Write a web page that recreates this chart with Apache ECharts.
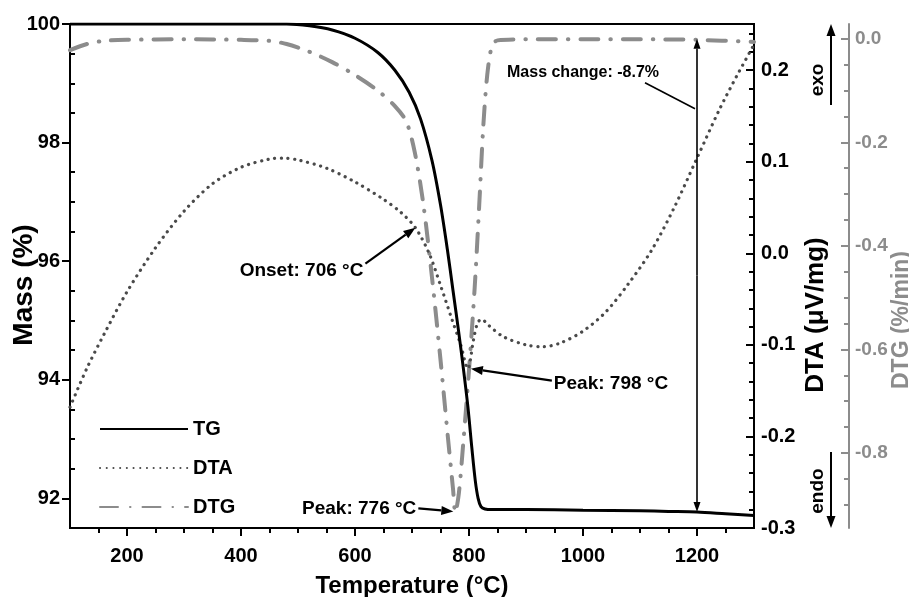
<!DOCTYPE html>
<html>
<head>
<meta charset="utf-8">
<script src="https://cdn.jsdelivr.net/npm/echarts@6/dist/echarts.min.js"></script>
<style>
  html, body { margin: 0; padding: 0; background: #fff; }
  #chart { width: 909px; height: 597px; }
</style>
</head>
<body>
<div id="chart"></div>
<script>
// Thermal analysis: TG (mass), DTA (heat flow) and DTG (mass-loss rate) vs temperature

// TG curve
const tgTemp = [100, 200, 300, 400, 480, 520, 560, 600, 640, 670, 695, 715, 735, 750, 762, 772, 782, 790, 798, 805, 811, 816, 821, 828, 840, 900, 1000, 1100, 1150, 1200, 1250, 1300];
const tgMass = [100, 100, 100, 100, 100, 99.97, 99.9, 99.76, 99.52, 99.22, 98.85, 98.4, 97.7, 96.95, 96.2, 95.5, 94.8, 94.2, 93.55, 92.85, 92.3, 92.0, 91.86, 91.82, 91.81, 91.81, 91.8, 91.79, 91.78, 91.77, 91.74, 91.71];

// DTA curve
const dtaTemp = [100, 130, 160, 200, 250, 300, 350, 400, 450, 475, 500, 550, 600, 650, 680, 706, 730, 750, 770, 785, 798, 808, 815, 822, 835, 860, 900, 930, 960, 1000, 1040, 1080, 1120, 1160, 1200, 1240, 1270, 1300];
const dtaSignal = [-0.168, -0.125, -0.088, -0.042, 0.006, 0.046, 0.076, 0.094, 0.103, 0.104, 0.102, 0.093, 0.078, 0.059, 0.045, 0.028, 0.0, -0.035, -0.072, -0.099, -0.126, -0.094, -0.076, -0.072, -0.079, -0.091, -0.1, -0.102, -0.098, -0.085, -0.064, -0.033, 0.003, 0.05, 0.104, 0.158, 0.194, 0.228];

// DTG curve
const dtgTemp = [100, 130, 160, 200, 300, 400, 450, 480, 520, 560, 600, 640, 670, 690, 705, 720, 735, 750, 763, 772, 776, 782, 790, 800, 810, 818, 825, 832, 840, 850, 900, 1000, 1100, 1200, 1300];
const dtgRate = [-0.022, -0.01, -0.004, -0.002, -0.001, -0.002, -0.004, -0.01, -0.025, -0.045, -0.07, -0.1, -0.13, -0.16, -0.22, -0.32, -0.46, -0.62, -0.77, -0.87, -0.915, -0.88, -0.78, -0.64, -0.48, -0.32, -0.17, -0.07, -0.015, -0.003, -0.001, -0.001, -0.001, -0.002, -0.006];

// Axis ticks and labels
const tempLabels = [200, 400, 600, 800, 1000, 1200];
const tempMinor = [150, 250, 300, 350, 450, 500, 550, 650, 700, 750, 850, 900, 950, 1050, 1100, 1150, 1250];
const massLabels = [92, 94, 96, 98, 100];
const massMinor = [92.5, 93, 93.5, 94.5, 95, 95.5, 96.5, 97, 97.5, 98.5, 99, 99.5];
const dtaLabels = [-0.3, -0.2, -0.1, 0.0, 0.1, 0.2];
const dtaMinor = [-0.28, -0.26, -0.24, -0.22, -0.18, -0.16, -0.14, -0.12, -0.08, -0.06, -0.04, -0.02, 0.02, 0.04, 0.06, 0.08, 0.12, 0.14, 0.16, 0.18, 0.22, 0.24];
const dtgLabels = [-0.8, -0.6, -0.4, -0.2, 0.0];
const dtgMinor = [-0.9, -0.85, -0.75, -0.7, -0.65, -0.55, -0.5, -0.45, -0.35, -0.3, -0.25, -0.15, -0.1, -0.05];

// Annotation values
const onsetTemp = 706;
const dtaPeakTemp = 798;
const dtgPeakTemp = 776;
const massChangeTemp = 1200;
const massChangeText = 'Mass change: -8.7%';

const FONT = "'Liberation Sans', Arial, sans-serif";
const GREY = '#8c8c8c';
const DARK = '#4a4a4a';

const zip = (a, b) => a.map((v, i) => [v, b[i]]);
const interp = (xs, ys, x) => {
  for (let i = 1; i < xs.length; i++) {
    if (x <= xs[i]) {
      const t = (x - xs[i - 1]) / (xs[i] - xs[i - 1]);
      return ys[i - 1] + t * (ys[i] - ys[i - 1]);
    }
  }
  return ys[ys.length - 1];
};

const boldText = (size, color) => ({ fontFamily: FONT, fontWeight: 'bold', fontSize: size, color: color || '#000' });

const MASS_MIN = 91.5, MASS_MAX = 100;
const DTA_MIN = -0.3, DTA_MAX = 0.2505;
const DTG_MIN = -0.945, DTG_MAX = 0.0286;

function yAxisPair(min, max, labels, minor, opts) {
  const major = {
    type: 'value', min, max, position: opts.position, offset: opts.offset || 0,
    axisLine: { show: true, onZero: false, lineStyle: { color: opts.color, width: 2 } },
    axisTick: { show: true, inside: opts.inside, length: 8, customValues: labels, lineStyle: { color: opts.color, width: 2 } },
    axisLabel: { show: true, customValues: labels, margin: opts.margin, formatter: opts.fmt, ...boldText(opts.fontSize, opts.color) },
    splitLine: { show: false }
  };
  const minorAxis = {
    type: 'value', min, max, position: opts.position, offset: opts.offset || 0,
    axisLine: { show: false, onZero: false },
    axisTick: { show: true, inside: opts.minorInside, length: 5, customValues: minor, lineStyle: { color: opts.color, width: 2 } },
    axisLabel: { show: false },
    splitLine: { show: false }
  };
  return [major, minorAxis];
}

const chart = echarts.init(document.getElementById('chart'), null, { renderer: 'canvas' });

const option = {
  animation: false,
  backgroundColor: '#fff',
  grid: {
    left: 70, right: 155, top: 24, bottom: 69, containLabel: false, outerBoundsMode: 'none',
    show: true, borderColor: '#000', borderWidth: 2, backgroundColor: 'transparent'
  },
  legend: {
    orient: 'vertical', left: 94, top: 414, itemWidth: 88, itemHeight: 16, itemGap: 19,
    itemStyle: { opacity: 0 },
    textStyle: { ...boldText(20), lineHeight: 16 },
    data: ['TG', 'DTA', 'DTG']
  },
  xAxis: [
    {
      type: 'value', min: 100, max: 1300, position: 'bottom',
      axisLine: { onZero: false, lineStyle: { color: '#000', width: 2 } },
      axisTick: { length: 8, customValues: tempLabels, lineStyle: { color: '#000', width: 2 } },
      axisLabel: { customValues: tempLabels, margin: 18, formatter: v => String(v), ...boldText(20) },
      splitLine: { show: false },
      name: 'Temperature (°C)', nameLocation: 'middle', nameGap: 46, nameMoveOverlap: false,
      nameTextStyle: boldText(24)
    },
    {
      type: 'value', min: 100, max: 1300, position: 'bottom',
      axisLine: { show: false, onZero: false },
      axisTick: { length: 5, customValues: tempMinor, lineStyle: { color: '#000', width: 2 } },
      axisLabel: { show: false }, splitLine: { show: false }
    }
  ],
  yAxis: [
    ...yAxisPair(MASS_MIN, MASS_MAX, massLabels, massMinor, { position: 'left', color: '#000', inside: false, minorInside: true, margin: 10, fontSize: 20, fmt: v => String(Math.round(v)) }),
    ...yAxisPair(DTA_MIN, DTA_MAX, dtaLabels, dtaMinor, { position: 'right', color: '#000', inside: true, minorInside: true, margin: 7, fontSize: 20, fmt: v => v.toFixed(1) }),
    ...yAxisPair(DTG_MIN, DTG_MAX, dtgLabels, dtgMinor, { position: 'right', offset: 95, color: GREY, inside: true, minorInside: true, margin: 6, fontSize: 19, fmt: v => v.toFixed(1) })
  ],
  series: [
    {
      name: 'TG', type: 'line', xAxisIndex: 0, yAxisIndex: 0, data: zip(tgTemp, tgMass),
      symbol: 'none', smooth: 0.3, z: 5,
      lineStyle: { color: '#000', width: 3 }, itemStyle: { color: '#000' }
    },
    {
      name: 'DTA', type: 'line', xAxisIndex: 0, yAxisIndex: 2, data: zip(dtaTemp, dtaSignal),
      symbol: 'none', smooth: 0.3, z: 4,
      lineStyle: { color: DARK, width: 3.2, type: [0.1, 6.6], cap: 'round' }, itemStyle: { color: DARK }
    },
    {
      name: 'DTG', type: 'line', xAxisIndex: 0, yAxisIndex: 4, data: zip(dtgTemp, dtgRate),
      symbol: 'none', smooth: 0.3, z: 3,
      lineStyle: { color: GREY, width: 4, type: [18, 12, 0.5, 12], cap: 'round' }, itemStyle: { color: GREY }
    }
  ]
};

chart.setOption(option);

// ---- annotations placed from data coordinates ----
const px = t => chart.convertToPixel({ xAxisIndex: 0 }, t);
const pyMass = v => chart.convertToPixel({ yAxisIndex: 0 }, v);
const pyDta = v => chart.convertToPixel({ yAxisIndex: 2 }, v);
const pyDtg = v => chart.convertToPixel({ yAxisIndex: 4 }, v);

function arrow(x1, y1, x2, y2, opt) {
  const o = Object.assign({ head: 12, half: 4.5, width: 2.2, color: '#000' }, opt || {});
  const dx = x2 - x1, dy = y2 - y1, len = Math.hypot(dx, dy);
  const ux = dx / len, uy = dy / len;
  const bx = x2 - ux * o.head, by = y2 - uy * o.head;
  return [
    { type: 'line', shape: { x1, y1, x2: bx, y2: by }, style: { stroke: o.color, lineWidth: o.width }, z: 20 },
    { type: 'polygon', shape: { points: [[x2, y2], [bx - uy * o.half, by + ux * o.half], [bx + uy * o.half, by - ux * o.half]] }, style: { fill: o.color }, z: 20 }
  ];
}
function label(text, x, y, align, size, color, rotation) {
  return {
    type: 'text', x, y, rotation: rotation || 0, z: 21,
    style: { text, fill: color || '#000', font: `bold ${size}px ${FONT}`, align: align || 'left', verticalAlign: 'middle' }
  };
}

const g = [];

// Onset of DTA event
const onX = px(onsetTemp), onY = pyDta(interp(dtaTemp, dtaSignal, onsetTemp));
g.push(...arrow(onX - 50, onY + 36, onX, onY));
g.push(label('Onset: 706 °C', onX - 52, onY + 43, 'right', 19));

// DTA peak
const dpX = px(dtaPeakTemp), dpY = pyDta(interp(dtaTemp, dtaSignal, dtaPeakTemp));
g.push(...arrow(dpX + 84, dpY + 12, dpX + 3, dpY));
g.push(label('Peak: 798 °C', dpX + 86, dpY + 15, 'left', 19));

// DTG peak
const gpX = px(dtgPeakTemp), gpY = pyDtg(interp(dtgTemp, dtgRate, dtgPeakTemp));
g.push(...arrow(gpX - 37, gpY - 4, gpX - 2, gpY - 1));
g.push(label('Peak: 776 °C', gpX - 39, gpY - 4, 'right', 19));

// Mass change double arrow
const mcX = px(massChangeTemp);
const mcTop = pyMass(99.75), mcBot = pyMass(interp(tgTemp, tgMass, massChangeTemp));
const mid = (mcTop + mcBot) / 2;
g.push(...arrow(mcX, mid, mcX, mcTop, { head: 10, half: 3.5, width: 1.6 }));
g.push(...arrow(mcX, mid, mcX, mcBot, { head: 10, half: 3.5, width: 1.6 }));
g.push({ type: 'line', shape: { x1: mcX - 52, y1: mcTop + 44, x2: mcX - 2, y2: mcTop + 70 }, style: { stroke: '#000', lineWidth: 1.6 }, z: 20 });
g.push(label(massChangeText, mcX - 190, mcTop + 34, 'left', 16));

// exo / endo indicators beside the DTA axis
g.push(...arrow(831, 105, 831, 24, { head: 12, half: 4.5, width: 2 }));
g.push(label('exo', 818, 80, 'center', 19, '#000', Math.PI / 2));
g.push(...arrow(831, 452, 831, 528, { head: 12, half: 4.5, width: 2 }));
g.push(label('endo', 818, 491, 'center', 19, '#000', Math.PI / 2));

// axis titles drawn as rotated text
g.push(label('Mass (%)', 24, 285, 'center', 28, '#000', Math.PI / 2));
g.push(label('DTA (μV/mg)', 816, 315, 'center', 26, '#000', Math.PI / 2));
g.push(label('DTG (%/min)', 902, 320, 'center', 23, GREY, Math.PI / 2));

chart.setOption({ graphic: g });
</script>
</body>
</html>
